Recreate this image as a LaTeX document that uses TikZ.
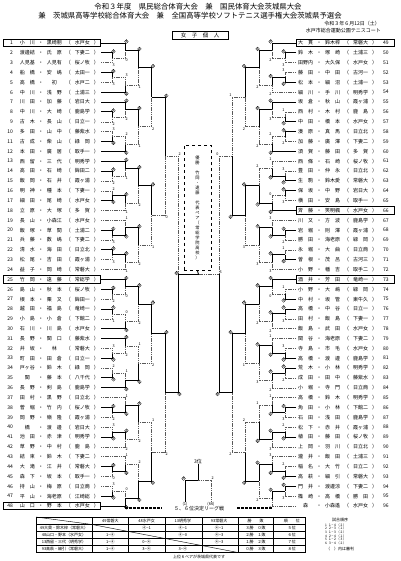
\documentclass[tikz,border=0pt]{standalone}
\usepackage{fontspec}
\setmainfont{Noto Sans CJK JP}
\usetikzlibrary{calc}

% one pair: name, name, school
\newcommand{\pr}[3]{\makebox[19pt]{#1}\makebox[8pt]{・}\makebox[19pt]{#2}\makebox[9pt]{（}\makebox[19pt]{#3}\makebox[9pt]{）}}

% characters one under another
\makeatletter
\newcommand{\vstack}[1]{\@tfor\vch:=#1\do{\vch\\}}
\makeatother

% one match: top in, bottom in, column, out, result (winner, top score, bottom score)
\newcommand{\bout}[5]{\expandafter\boutx#5{#1}{#2}{#3}{#4}}
\newcommand{\boutx}[7]{%
  \ifnum#1=1 \tikzset{ta/.style=win,tb/.style=lose,sa/.style=wsc,sb/.style=sc}%
  \else \tikzset{ta/.style=lose,tb/.style=win,sa/.style=sc,sb/.style=wsc}\fi
  \coordinate (#7) at ($(#4 -| #6)!.5!(#5 -| #6)$);
  \draw[ta] (#4) -- (#4 -| #6) -- (#7);
  \draw[tb] (#5) -- (#5 -| #6) -- (#7);
  \node[sa, ua] (#7-a) at (#4 -| #6) {#2};
  \node[sb, ub] (#7-b) at (#5 -| #6) {#3};
}

\begin{document}
\begin{tikzpicture}[x=1pt,y=-1pt,
    nm/.style={font=\fontsize{5}{6}\selectfont, inner sep=0pt},
    ttl/.style={font=\fontsize{7.4}{8}\selectfont, inner sep=0pt},
    small/.style={font=\fontsize{5}{6}\selectfont, inner sep=0pt},
    tiny/.style={font=\fontsize{4}{4.5}\selectfont, inner sep=0pt},
    win/.style={line width=0.9pt},
    lose/.style={line width=0.45pt, black!65, dash pattern=on 1.2pt off 0.6pt},
    sc/.style={font=\fontsize{3.8}{4}\selectfont, inner sep=0.4pt},
    wsc/.style={sc, circle, draw, line width=0.3pt, inner sep=0.1pt},
    seedbox/.style={draw, line width=0.7pt, minimum height=7.5pt, inner sep=0pt},
    catbox/.style={draw, line width=0.9pt, minimum width=56pt, minimum height=8pt, inner sep=0pt, font=\fontsize{5.5}{6}\selectfont},
    champ/.style={draw, line width=0.9pt, dashed, minimum width=27pt, minimum height=125pt, inner sep=1pt, text width=8pt, align=center, font=\fontsize{4.2}{5}\selectfont},
    grid/.style={line width=0.4pt},
    deco/.style={line width=1.3pt, dash pattern=on 3pt off 1pt}
]
\useasboundingbox (0,0) rectangle (400,561);

% headings
\node[ttl] (t1) at (198,6.5) {令和３年度　県民総合体育大会　兼　国民体育大会茨城県大会};
\node[ttl] (t2) at (190,15.5) {兼　茨城県高等学校総合体育大会　兼　全国高等学校ソフトテニス選手権大会茨城県予選会};
\node[small, anchor=east] (date) at (380,23.5) {令和３年６月12日（土）};
\node[small, anchor=east] (venue) at (381,31) {水戸市総合運動公園テニスコート};
\node[catbox] (cat) at (200,35) {女　子　個　人};

% columns of the draw
\foreach \x [count=\r] in {112,125,138,151.5,165,178} {
  \coordinate (colL\r) at (\x,0);
  \coordinate (colR\r) at (397-\x,0);
}

% left pairs
\foreach \a/\b/\s [count=\i] in {小　川/黒崎朋/水戸女, 渡邊結/氏　原/下妻二, 人見基/人見有/桜ノ牧, 船　橋/安　嶋/太田一, 高　橋/初/水戸二, 中　川/浅　野/土浦三,
  川　田/加　藤/岩日大, 中　川/大　崎/鹿島学, 古　木/長　山/日立一, 多　田/山　中/藤紫水, 古　成/柴　山/緑　岡, 本　田/廣　居/取手一,
  西　留/三　代/明秀学, 高　田/石　崎/鉾田二, 飯　岡/石　井/霞ヶ浦, 明　神/種　本/下妻一, 細　田/尾　崎/水戸女, 立　原/大　塚/多　賀,
  長　山/小森江/水戸女, 飯　塚/草　間/土浦二, 兵　藤/数　嶋/下妻二, 清　水/海　田/日立北, 松　尾/吉　田/霞ヶ浦, 益　子/岡　崎/常磐大,
  竹　岡/遠　藤/常総学, 島　山/秋　本/桜ノ牧, 根　本/栗　又/鉾田一, 越　田/福　島/竜崎一, 小　島/小　倉/下館二, 石　川/川　島/水戸女,
  長　野/関　口/藤紫水, 井　坂/林/常磐大, 町　田/田　倉/日立一, 戸ヶ谷/鈴　木/緑　岡, 関/藤　本/八千代, 長　野/剣　島/鹿島学,
  田　村/黒　野/日立北, 菅　堀/竹　内/桜ノ牧, 岡　野/嶺　隆/霞ヶ浦, 橋/渡　邊/岩日大, 池　田/赤　津/明秀学, 草　野/中　村/鹿　島,
  結　束/鈴　木/下妻二, 大　滝/江　井/常磐大, 森　下/坂　本/取手一, 持　山/梅　原/日立商, 平　山/海老原/江崎総, 山　口/野　本/水戸女} {
  \pgfmathsetmacro\yy{43+(\i-1)*9.85}
  \coordinate (L\i) at (101,\yy);
  \node[nm, anchor=east] (nL\i) at (L\i) {\pr{\a}{\b}{\s}};
  \node[nm, anchor=east] (kL\i) at (13,\yy) {\i};
}

% right pairs
\foreach \a/\b/\s [count=\j] in {大　貫/鈴木梓/常磐大, 鈴　木/塚　崎/土浦三, 田野内/大久保/水戸女, 藤　田/中　田/古河一, 松　本/細　沼/土浦一, 細　川/手　川/明秀学,
  坂　倉/秋　山/霞ヶ浦, 西　村/木　村/鹿　島, 中　田/橋　本/水戸女, 湊　原/真　馬/日立北, 加　藤/廣　澤/下妻二, 須　賀/藤　田/多　賀,
  西　條/石　崎/桜ノ牧, 豊　田/仲　永/日立北, 生　駒/鈴木愛/常磐大, 保　坂/中　野/岩日大, 横　田/安　島/取手一, 斉　藤/笑明楓/水戸女,
  川　又/方　波/鹿島学, 岩　堀/則　澤/霞ヶ浦, 勝　田/海老原/緑　岡, 永　堀/大　曲/日立商, 曽　根/茂　呂/古河三, 小　野/幡　吉/取手二,
  酒　井/芳　田/竜崎一, 小　野/大　嶋/緑　岡, 中　村/坂　管/東牛久, 高　橋/中　谷/日立一, 田　村/飯　島/下妻一, 飯　島/武　田/水戸女,
  関　谷/海老原/下妻二, 寺　島/市　毛/水戸女, 高　橋/渡　邊/鹿島学, 荒　木/小　林/明秀学, 成　田/田　中/藤紫水, 小　堀/寺　門/日立商,
  高　橋/鈴　木/明秀学, 角　田/小　林/下館二, 石　田/浅　田/鹿島学, 松　下/赤　井/霞ヶ浦, 植　田/藤　田/桜ノ牧, 上　岡/羽　川/日立北,
  瀧　井/飯　田/土浦三, 稲　名/大　竹/日立二, 高　萩/細　引/常磐大, 門　井/渡邊涼/下妻二, 篠　崎/高　橋/勝　田, 森/小森遙/水戸女} {
  \pgfmathtruncatemacro\i{\j+48}
  \pgfmathsetmacro\yy{43+(\j-1)*9.85}
  \coordinate (R\i) at (296,\yy);
  \node[nm, anchor=west] (nR\i) at (R\i) {\pr{\a}{\b}{\s}};
  \node[nm, anchor=west] (kR\i) at (383,\yy) {\i};
}

% seeded pairs
\foreach \i in {1,25,48} \node[seedbox, minimum width=97pt, anchor=east] (sL\i) at (L\i) {};
\foreach \i in {49,66,73} \node[seedbox, minimum width=98pt, anchor=west] (sR\i) at (R\i) {};

% left half
\tikzset{ua/.style={anchor=south west}, ub/.style={anchor=north west}}
\foreach \ga/\ra/\rb/\rc/\rd/\re [count=\g] in {1/143/140/143/234/141, 7/142/142/234/224/141, 13/142/141/224/141/142, 19/143/214/143/141/142,
    25/142/140/141/204/142, 31/234/142/224/214/214, 37/142/214/234/142/142, 43/140/214/234/204/224} {
  \pgfmathtruncatemacro\kb{\ga+1}
  \pgfmathtruncatemacro\kc{\ga+2}
  \pgfmathtruncatemacro\kd{\ga+3}
  \pgfmathtruncatemacro\ke{\ga+4}
  \pgfmathtruncatemacro\kf{\ga+5}
  \bout{L\kb}{L\kc}{colL1}{m1L\g}{\ra}
  \bout{L\ga}{m1L\g}{colL2}{m2L\g}{\rb}
  \bout{L\kd}{L\ke}{colL1}{m3L\g}{\rc}
  \bout{m3L\g}{L\kf}{colL2}{m4L\g}{\rd}
  \bout{m2L\g}{m4L\g}{colL3}{gL\g}{\re}
}
\bout{gL1}{gL2}{colL4}{hL1}{142}
\bout{gL3}{gL4}{colL4}{hL2}{141}
\bout{gL5}{gL6}{colL4}{hL3}{142}
\bout{gL7}{gL8}{colL4}{hL4}{214}
\bout{hL1}{hL2}{colL5}{iL1}{140}
\bout{hL3}{hL4}{colL5}{iL2}{142}
\bout{iL1}{iL2}{colL6}{FL}{224}

% right half
\tikzset{ua/.style={anchor=south east}, ub/.style={anchor=north east}}
\foreach \ga/\ra/\rb/\rc/\rd/\re [count=\g] in {49/143/142/234/142/142, 55/214/143/142/224/142, 61/234/214/143/204/224, 67/142/234/214/143/143,
    73/214/140/143/142/142, 79/234/214/142/142/143, 85/143/214/224/143/214, 91/224/234/143/142/142} {
  \pgfmathtruncatemacro\kb{\ga+1}
  \pgfmathtruncatemacro\kc{\ga+2}
  \pgfmathtruncatemacro\kd{\ga+3}
  \pgfmathtruncatemacro\ke{\ga+4}
  \pgfmathtruncatemacro\kf{\ga+5}
  \bout{R\kb}{R\kc}{colR1}{m1R\g}{\ra}
  \bout{R\ga}{m1R\g}{colR2}{m2R\g}{\rb}
  \bout{R\kd}{R\ke}{colR1}{m3R\g}{\rc}
  \bout{m3R\g}{R\kf}{colR2}{m4R\g}{\rd}
  \bout{m2R\g}{m4R\g}{colR3}{gR\g}{\re}
}
\bout{gR1}{gR2}{colR4}{hR1}{142}
\bout{gR3}{gR4}{colR4}{hR2}{143}
\bout{gR5}{gR6}{colR4}{hR3}{141}
\bout{gR7}{gR8}{colR4}{hR4}{224}
\bout{hR1}{hR2}{colR5}{iR1}{214}
\bout{hR3}{hR4}{colR5}{iR2}{142}
\bout{iR1}{iR2}{colR6}{FR}{204}

% final
\node[champ] (champ) at (197.5,208) {\vstack{優勝　竹岡・遠藤　代表ペア（常総学院高校）}};
\coordinate (FC) at ($(FL)!.5!(FR)$);
\draw[win] (FL) -- (FC);
\draw[lose] (FC) -- (FR);
\draw[win] (champ.south) -- (FC);
\node[wsc, anchor=south east] (fa) at (FL) {4};
\node[sc, anchor=south west] (fb) at (FR) {3};

% third place
\node[small] (third) at (198,462) {3位};
\node[tiny] (th1) at (185,504) {(1)};
\node[tiny] (th2) at (211,504) {(66)};
\coordinate (tp) at (198,480);
\draw[win] (th1.north) |- (tp);
\draw[lose] (th2.north) |- (tp);
\draw[win] (tp) -- (third.south);
\node[wsc, anchor=south east] (tpa) at (th1.north |- tp) {4};
\node[sc, anchor=south west] (tpb) at (th2.north |- tp) {2};

% 5-8 league
\node[small] (lg) at (199,509) {５、６位決定リーグ戦};
\draw[deco] (125,508) -- (162,508);
\draw[deco] (237,508) -- (273,508);
\draw[grid] (36,517) rectangle (305,552.5);
\foreach \x in {92,128,165,202,273} \draw[grid] (\x,517) -- (\x,552.5);
\draw[line width=1pt] (238,517) -- (238,552.5);
\foreach \y in {524.5,531.5,538.5,545.5} \draw[grid] (36,\y) -- (305,\y);
\draw[grid] (36,517) -- (92,524.5);
\draw[grid] (92,524.5) -- (238,552.5);
\foreach \t [count=\c] in {49常磐大,48水戸女,13明秀学,93常磐大,勝　　敗,順　　位}
  \node[tiny] (hd\c) at (92+36.3*\c-18,520.8) {\t};
\foreach \t [count=\r] in {49大貫・鈴木梓（常磐大）,48山口・野本（水戸女）,13西留・三代（明秀学）,93高萩・細引（常磐大）}
  \node[tiny] (rw\r) at (64,521+7*\r) {\t};
\foreach \r/\ca/\cb/\cc/\cd/\ce/\cf in {1//④−1/④−1/④−1/３勝　０敗/５位, 2/1−④//④−0/④−3/２勝　１敗/６位,
    3/1−④/0−④//④−3/１勝　２敗/７位, 4/1−④/3−④/3−④//０勝　３敗/８位} {
  \foreach \t [count=\c] in {\ca,\cb,\cc,\cd,\ce,\cf}
    \node[tiny] (cl\r\c) at (92+36.3*\c-18,521+7*\r) {\t};
}
\node[tiny] (note) at (199,557) {上位６ペアが茨城県代表です};

% order of play
\node[tiny] (ord) at (340,520) {試合順序};
\foreach \t [count=\k] in {１−４（２）,２−３（１）,１−３（２）,２−４（１）,１−２（３）,３−４（２）}
  \node[font=\fontsize{3.2}{3.5}\selectfont, inner sep=0pt, anchor=west] (od\k) at (325,521.5+3.6*\k) {\k\ \ \t};
\node[tiny] (odn) at (340,549) {（　）内は審判};
\end{tikzpicture}
\end{document}
